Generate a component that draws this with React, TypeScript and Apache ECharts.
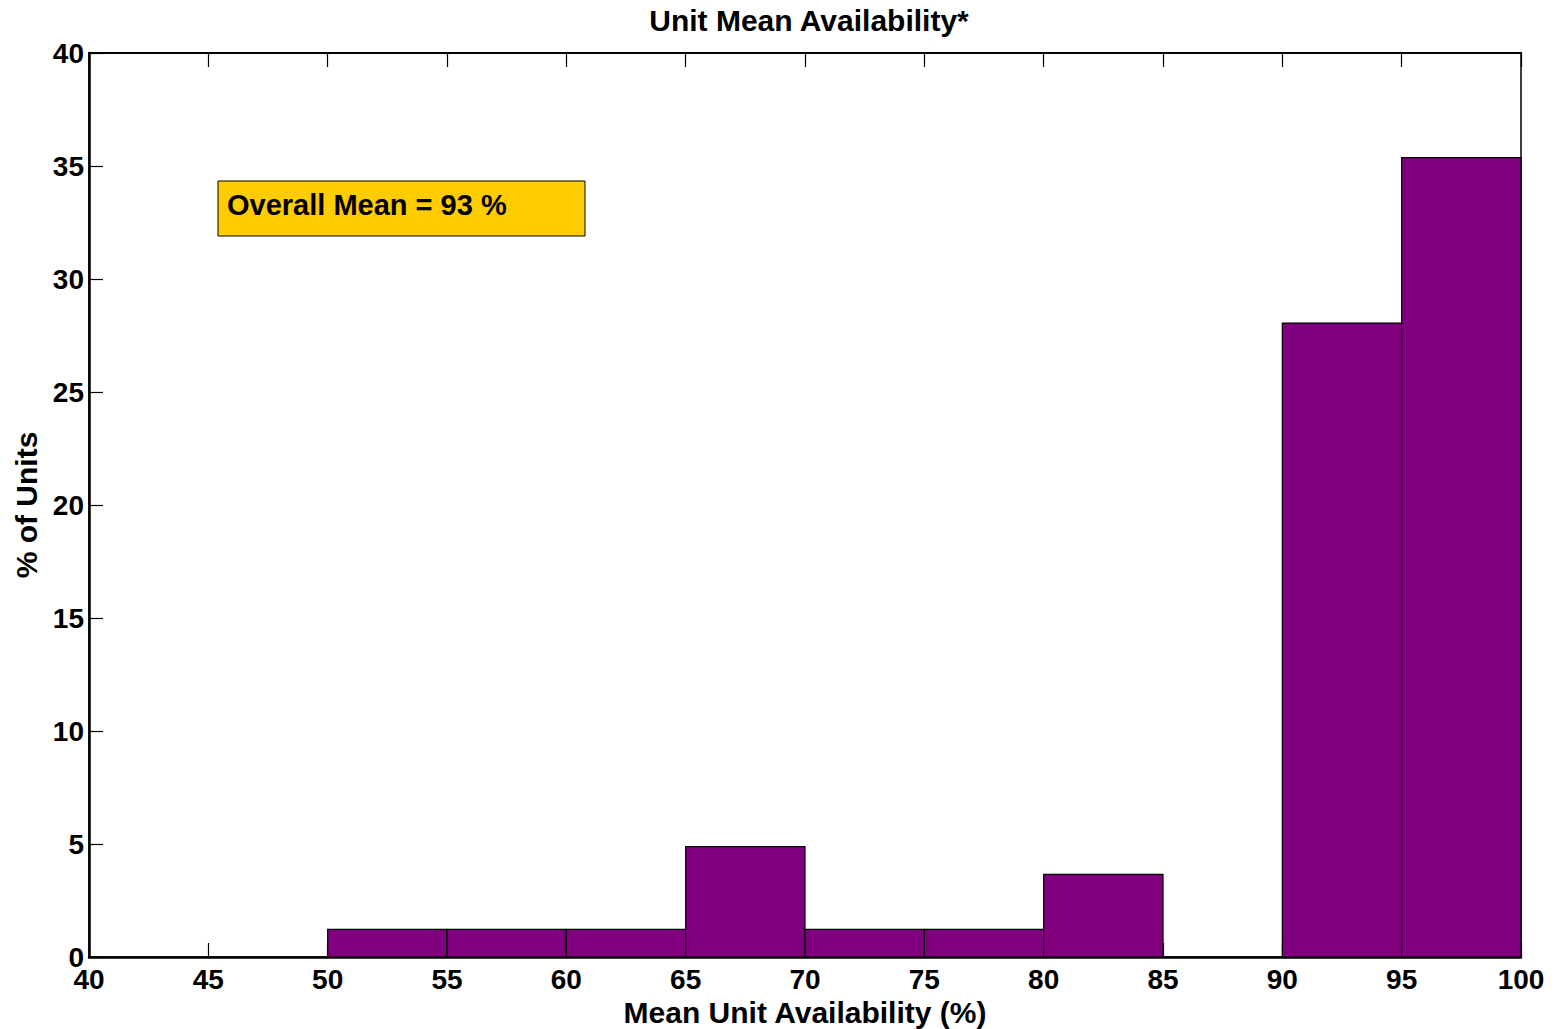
import React, { useEffect, useRef } from "react";
import * as echarts from "echarts";

const binStarts = [50, 55, 60, 65, 70, 75, 80, 85, 90, 95];
const binWidth = 5;
const percentUnits = [1.22, 1.22, 1.22, 4.88, 1.22, 1.22, 3.66, 0, 28.05, 35.37];
const xTicks = [40, 45, 50, 55, 60, 65, 70, 75, 80, 85, 90, 95, 100];
const yTicks = [0, 5, 10, 15, 20, 25, 30, 35, 40];

const FONT = "'Liberation Sans', Arial, sans-serif";

export default function App() {
  const ref = useRef<HTMLDivElement>(null);
  useEffect(() => {
    if (!ref.current) return;
    const chart = echarts.init(ref.current, undefined, { renderer: "svg" });
    const data = binStarts.map((s, i) => [s, s + binWidth, percentUnits[i]]);
    chart.setOption({
      animation: false,
      backgroundColor: "#fff",
      title: {
        text: "Unit Mean Availability*",
        left: 804,
        textAlign: "center",
        top: 0,
        textStyle: { fontFamily: FONT, fontWeight: "bold", fontSize: 30, color: "#000" },
      },
      grid: {
        left: 89, right: 36, top: 53, bottom: 72,
        outerBoundsMode: "none",
        containLabel: false,
        show: true, borderColor: "#000", borderWidth: 1.5, backgroundColor: "#fff",
      },
      xAxis: [
        {
          type: "value", min: xTicks[0], max: xTicks[xTicks.length - 1], interval: 5,
          name: "Mean Unit Availability (%)", nameLocation: "middle", nameGap: 36,
          nameTextStyle: { fontFamily: FONT, fontWeight: "bold", fontSize: 30, color: "#000" },
          axisLine: { lineStyle: { color: "#000", width: 2.5 } },
          axisTick: { inside: true, length: 14, lineStyle: { color: "#000", width: 1.2 } },
          axisLabel: { fontFamily: FONT, fontWeight: "bold", fontSize: 28, color: "#000", margin: 8, hideOverlap: false },
          splitLine: { show: false },
        },
        {
          type: "value", position: "top", min: xTicks[0], max: xTicks[xTicks.length - 1], interval: 5,
          axisLine: { show: true, lineStyle: { color: "#000", width: 2 } },
          axisTick: { inside: true, length: 14, lineStyle: { color: "#000", width: 1.2 } },
          axisLabel: { show: false },
          splitLine: { show: false },
        },
      ],
      yAxis: {
        type: "value", min: yTicks[0], max: yTicks[yTicks.length - 1], interval: 5,
        name: "% of Units", nameLocation: "middle", nameGap: 48,
        nameTextStyle: { fontFamily: FONT, fontWeight: "bold", fontSize: 30, color: "#000" },
        axisLine: { show: true, lineStyle: { color: "#000", width: 2.5 } },
        axisTick: { show: true, inside: true, length: 14, lineStyle: { color: "#000", width: 1.2 } },
        axisLabel: { fontFamily: FONT, fontWeight: "bold", fontSize: 28, color: "#000", margin: 5, hideOverlap: false },
        splitLine: { show: false },
      },
      series: [
        {
          type: "custom",
          xAxisIndex: 0,
          z: 5,
          data,
          encode: { x: [0, 1], y: 2 },
          renderItem: (params: any, api: any) => {
            const v = api.value(2);
            if (!v) return null;
            const p0 = api.coord([api.value(0), 0]);
            const p1 = api.coord([api.value(1), v]);
            return {
              type: "rect",
              shape: { x: p0[0], y: p1[1], width: p1[0] - p0[0], height: p0[1] - p1[1] },
              style: { fill: "#800080", stroke: "#000", lineWidth: 1.2 },
            };
          },
        },
      ],
      graphic: [
        {
          type: "rect",
          z: 10,
          shape: { x: 218, y: 181, width: 367, height: 55 },
          style: { fill: "#FFCC00", stroke: "#000", lineWidth: 1 },
        },
        {
          type: "text",
          z: 11,
          x: 227, y: 205,
          style: {
            text: "Overall Mean = 93 %",
            fontFamily: FONT, fontWeight: "bold", fontSize: 29, fill: "#000",
            textVerticalAlign: "middle",
          },
        },
      ],
    });
    return () => chart.dispose();
  }, []);
  return (
    <div
      ref={ref}
      style={{ position: "fixed", left: 0, top: 0, width: 1557, height: 1029 }}
    />
  );
}
